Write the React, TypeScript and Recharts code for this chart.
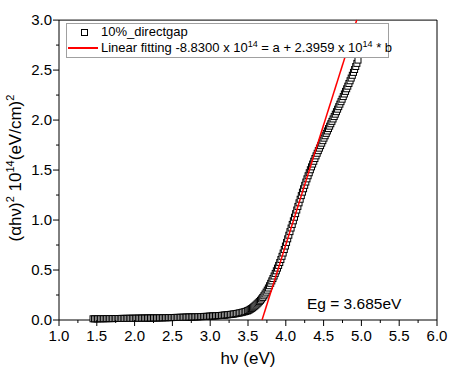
import { ScatterChart, Scatter, XAxis, YAxis, ReferenceLine } from "recharts";

// photon energy (eV)
const hv = [
    1.45, 1.47, 1.49, 1.51, 1.53, 1.55, 1.57, 1.59, 1.61, 1.63,
    1.65, 1.67, 1.69, 1.71, 1.73, 1.75, 1.77, 1.79, 1.81, 1.83,
    1.85, 1.87, 1.89, 1.91, 1.93, 1.95, 1.97, 1.99, 2.01, 2.03,
    2.05, 2.07, 2.09, 2.11, 2.13, 2.15, 2.17, 2.19, 2.21, 2.23,
    2.25, 2.27, 2.29, 2.31, 2.33, 2.35, 2.37, 2.39, 2.41, 2.43,
    2.45, 2.47, 2.49, 2.51, 2.53, 2.55, 2.57, 2.59, 2.61, 2.63,
    2.65, 2.67, 2.69, 2.71, 2.73, 2.75, 2.77, 2.79, 2.81, 2.83,
    2.85, 2.87, 2.89, 2.91, 2.93, 2.95, 2.97, 2.99, 3.01, 3.03,
    3.05, 3.07, 3.09, 3.11, 3.13, 3.15, 3.17, 3.19, 3.21, 3.23,
    3.25, 3.27, 3.29, 3.31, 3.33, 3.35, 3.37, 3.39, 3.41, 3.43,
    3.45, 3.47, 3.49,
    3.5, 3.515, 3.53, 3.545, 3.56, 3.575, 3.59, 3.605, 3.62, 3.635,
    3.65, 3.665, 3.68, 3.695, 3.71, 3.725, 3.74, 3.755, 3.77, 3.785,
    3.8, 3.815, 3.83, 3.845, 3.86, 3.875, 3.89, 3.905, 3.92, 3.935,
    3.95, 3.965, 3.98, 3.995, 4.01, 4.025, 4.04, 4.055, 4.07, 4.085,
    4.1, 4.115, 4.13, 4.145, 4.16, 4.175, 4.19, 4.205, 4.22, 4.235,
    4.25, 4.265, 4.28, 4.295, 4.31, 4.325, 4.34, 4.355, 4.37, 4.385,
    4.4, 4.415, 4.43, 4.445, 4.46, 4.475, 4.49, 4.505, 4.52, 4.535,
    4.55, 4.565, 4.58, 4.595, 4.61, 4.625, 4.64, 4.655, 4.67, 4.685,
    4.7, 4.715, 4.73, 4.745, 4.76, 4.775, 4.79, 4.805, 4.82, 4.835,
    4.85, 4.865, 4.88, 4.895, 4.91, 4.925, 4.94, 4.955,
];

// (αhν)² in units of 10^14 (eV/cm)²
const alphaHv2 = [
    0.012, 0.012, 0.012, 0.012, 0.013, 0.013, 0.013, 0.013, 0.013, 0.014,
    0.014, 0.014, 0.014, 0.014, 0.015, 0.015, 0.015, 0.015, 0.015, 0.016,
    0.016, 0.016, 0.016, 0.016, 0.017, 0.017, 0.017, 0.017, 0.017, 0.018,
    0.018, 0.018, 0.018, 0.019, 0.019, 0.019, 0.019, 0.02, 0.02, 0.02,
    0.021, 0.021, 0.021, 0.021, 0.022, 0.022, 0.022, 0.023, 0.023, 0.023,
    0.024, 0.024, 0.024, 0.025, 0.025, 0.026, 0.026, 0.026, 0.027, 0.027,
    0.028, 0.028, 0.029, 0.029, 0.03, 0.03, 0.031, 0.031, 0.032, 0.032,
    0.033, 0.034, 0.034, 0.035, 0.036, 0.036, 0.037, 0.038, 0.039, 0.04,
    0.041, 0.042, 0.043, 0.044, 0.045, 0.046, 0.048, 0.049, 0.051, 0.052,
    0.054, 0.056, 0.058, 0.06, 0.062, 0.065, 0.068, 0.071, 0.074, 0.078,
    0.082, 0.086, 0.091,
    0.094, 0.1, 0.107, 0.114, 0.122, 0.131, 0.14, 0.15, 0.161, 0.172,
    0.184, 0.197, 0.211, 0.226, 0.242, 0.26, 0.279, 0.299, 0.32, 0.343,
    0.367, 0.391, 0.415, 0.44, 0.466, 0.492, 0.519, 0.546, 0.575, 0.605,
    0.637, 0.67, 0.705, 0.74, 0.776, 0.812, 0.848, 0.884, 0.92, 0.956,
    0.992, 1.028, 1.064, 1.1, 1.136, 1.172, 1.208, 1.244, 1.279, 1.313,
    1.347, 1.38, 1.412, 1.443, 1.473, 1.503, 1.532, 1.56, 1.588, 1.615,
    1.642, 1.668, 1.694, 1.719, 1.744, 1.769, 1.794, 1.819, 1.843, 1.867,
    1.891, 1.915, 1.939, 1.963, 1.987, 2.011, 2.035, 2.059, 2.084, 2.109,
    2.134, 2.159, 2.184, 2.209, 2.235, 2.261, 2.287, 2.313, 2.339, 2.366,
    2.393, 2.42, 2.448, 2.477, 2.506, 2.536, 2.567, 2.6,
];

// linear fit y = a + b*x
const fitA = -8.83;
const fitB = 2.3959;
const fitRange = [3.6855, 4.938];

const xTicks = [1, 1.25, 1.5, 1.75, 2, 2.25, 2.5, 2.75, 3, 3.25, 3.5, 3.75, 4, 4.25, 4.5, 4.75, 5, 5.25, 5.5, 5.75, 6];
const yTicks = [0, 0.25, 0.5, 0.75, 1, 1.25, 1.5, 1.75, 2, 2.25, 2.5, 2.75, 3];

const FONT = "'Liberation Sans', Arial, sans-serif";

const points = hv.map((x, i) => ({ x, y: alphaHv2[i] }));
const fitLine = fitRange.map((x) => ({ x, y: fitA + fitB * x }));

const isMajor = (v: number) => Math.abs(v * 2 - Math.round(v * 2)) < 1e-6;

function XTick(props: any) {
    const { x, y, payload } = props;
    const v = payload.value;
    const major = isMajor(v);
    return (
        <g>
            <line x1={x} y1={y} x2={x} y2={y + (major ? 6 : 3)} stroke="#000" />
            {major && (
                <text x={x} y={y + 21} textAnchor="middle" fontSize={15} fontFamily={FONT} fill="#000">
                    {v.toFixed(1)}
                </text>
            )}
        </g>
    );
}

function YTick(props: any) {
    const { x, y, payload } = props;
    const v = payload.value;
    const major = isMajor(v);
    return (
        <g>
            <line x1={x - (major ? 6 : 3)} y1={y} x2={x} y2={y} stroke="#000" />
            {major && (
                <text x={x - 7} y={y + 5} textAnchor="end" fontSize={15} fontFamily={FONT} fill="#000">
                    {v.toFixed(1)}
                </text>
            )}
        </g>
    );
}

function SquareDot(props: any) {
    const { cx, cy } = props;
    if (cx == null || cy == null) return <g />;
    return <rect x={cx - 3} y={cy - 3} width={6} height={6} fill="#fff" stroke="#000" strokeWidth={1} />;
}

export default function App() {
    return (
        <div style={{ position: "absolute", left: 0, top: 0, width: 449, height: 368, fontFamily: FONT }}>
            <ScatterChart width={449} height={368} margin={{ top: 20, right: 12, left: 0, bottom: 0 }}>
                <XAxis
                    type="number"
                    dataKey="x"
                    domain={[1, 6]}
                    ticks={xTicks}
                    interval={0}
                    tickSize={0}
                    tickMargin={0}
                    tick={<XTick />}
                    height={48}
                    stroke="#000"
                    label={{ value: "hν (eV)", position: "insideBottom", offset: 4, fontSize: 17, fill: "#000", fontFamily: FONT }}
                />
                <YAxis
                    type="number"
                    dataKey="y"
                    domain={[0, 3]}
                    ticks={yTicks}
                    interval={0}
                    tickSize={0}
                    tickMargin={0}
                    tick={<YTick />}
                    width={59}
                    stroke="#000"
                />
                <ReferenceLine y={3} stroke="#000" />
                <ReferenceLine x={6} stroke="#000" />
                <Scatter data={points} shape={<SquareDot />} isAnimationActive={false} />
                <Scatter
                    data={fitLine}
                    line={{ stroke: "#ff0000", strokeWidth: 1.5 }}
                    shape={() => <g />}
                    isAnimationActive={false}
                />
            </ScatterChart>

            {/* y axis title */}
            <div
                style={{
                    position: "absolute",
                    left: 15,
                    top: 168,
                    transform: "translate(-50%, -50%) rotate(-90deg)",
                    whiteSpace: "nowrap",
                    fontSize: 17,
                }}
            >
                (αhν)<sup style={{ fontSize: 11 }}>2</sup> 10<sup style={{ fontSize: 11 }}>14</sup>(eV/cm)
                <sup style={{ fontSize: 11 }}>2</sup>
            </div>

            {/* legend */}
            <div
                style={{
                    position: "absolute",
                    left: 66,
                    top: 23,
                    width: 321,
                    height: 33,
                    border: "1px solid #a0a0a0",
                    background: "#fff",
                    fontSize: 13,
                    lineHeight: "16px",
                }}
            >
                <div style={{ display: "flex", alignItems: "center", height: 16, whiteSpace: "nowrap" }}>
                    <span style={{ width: 34, flexShrink: 0, display: "flex", justifyContent: "center" }}>
                        <span style={{ width: 5, height: 5, border: "1px solid #000" }} />
                    </span>
                    <span>10%_directgap</span>
                </div>
                <div style={{ display: "flex", alignItems: "center", height: 16, whiteSpace: "nowrap" }}>
                    <span style={{ width: 34, flexShrink: 0, display: "flex", alignItems: "center" }}>
                        <span style={{ marginLeft: 1, width: 30, height: 2, background: "#ff0000" }} />
                    </span>
                    <span style={{ flexShrink: 0 }}>
                        Linear fitting -8.8300 x 10<sup style={{ fontSize: 9, lineHeight: 0 }}>14</sup> = a + 2.3959 x 10
                        <sup style={{ fontSize: 9, lineHeight: 0 }}>14</sup> * b
                    </span>
                </div>
            </div>

            {/* band gap annotation */}
            <div style={{ position: "absolute", left: 307, top: 295, fontSize: 15.5, whiteSpace: "nowrap" }}>
                Eg = 3.685eV
            </div>
        </div>
    );
}
